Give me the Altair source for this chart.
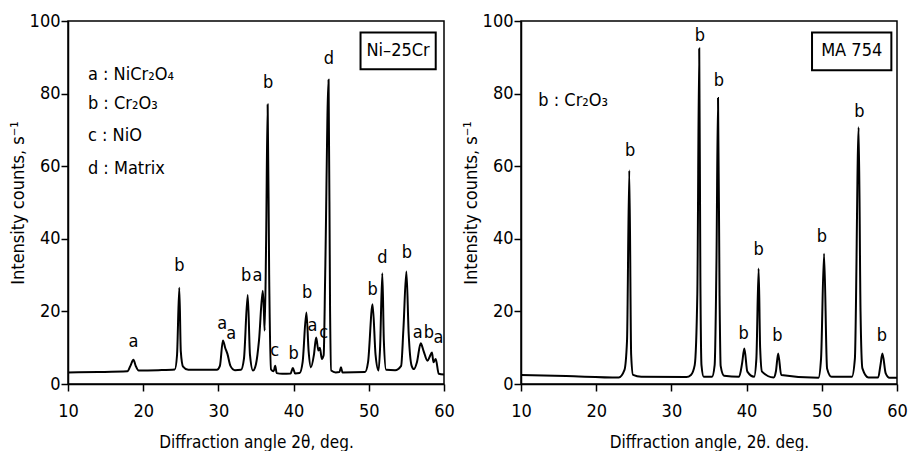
import altair as alt
import pandas as pd

# ---------------- Data: Ni-25Cr (left panel) ----------------
ni_x = [10, 14, 17.9, 18.3, 18.7, 19.0, 19.4, 22, 24.2, 24.5, 24.8, 25.0, 25.3, 26, 29.8, 30.2, 30.6, 30.9,
        31.2, 31.6, 32.2, 33.0, 33.4, 33.9, 34.2, 34.6, 35.0, 35.4, 35.9, 36.05, 36.15, 36.35, 36.55, 36.75,
        37.0, 37.35, 37.55, 37.75, 38.5, 39.6, 39.9, 40.2, 40.8, 41.2, 41.7, 42.0, 42.3, 42.7, 43.0, 43.3,
        43.5, 43.75, 44.0, 44.2, 44.65, 44.85, 45.0, 45.6, 46.1, 46.3, 46.5, 49.5, 49.9, 50.5, 50.9, 51.3,
        51.5, 51.8, 52.0, 52.3, 53.5, 54.3, 54.6, 55.0, 55.3, 55.7, 56.0, 56.4, 56.9, 57.3, 57.8, 58.1,
        58.4, 58.6, 58.9, 59.3, 60]
ni_y = [3.2, 3.3, 3.5, 5.0, 6.7, 5.0, 3.7, 3.8, 4.0, 8.0, 26.5, 9.0, 4.8, 3.9, 3.9, 5.0, 12.0, 10.0,
        8.3, 5.0, 3.8, 3.9, 7.0, 24.5, 8.0, 3.7, 5.5, 12.0, 25.7, 20.0, 14.7, 40.0, 77.0, 30.0,
        4.0, 3.5, 5.0, 3.0, 2.8, 2.9, 4.4, 2.9, 3.0, 6.0, 19.7, 9.0, 4.6, 8.0, 12.8, 9.2,
        10.0, 6.9, 8.0, 30.0, 83.8, 20.0, 3.7, 3.2, 3.3, 4.6, 3.2, 3.3, 6.0, 22.0, 8.0, 3.7,
        10.0, 30.5, 12.0, 3.9, 3.8, 5.0, 15.0, 31.0, 14.0, 5.0, 4.1, 6.0, 11.2, 9.0, 6.4, 7.5,
        8.7, 6.0, 6.9, 2.8, 2.6]

ni_lab_text = ["a", "b", "a", "a", "b", "a", "b", "c", "b", "b", "a", "c", "d", "b", "d", "b", "a", "b", "a"]
ni_lab_x = [18.7, 24.8, 30.5, 31.7, 33.7, 35.2, 36.6, 37.5, 40.0, 41.8, 42.5, 44.0, 44.7, 50.5, 51.8, 55.05, 56.5, 58.0, 59.25]
ni_lab_y = [11.7, 32.4, 16.6, 13.9, 29.7, 29.7, 83.0, 9.2, 8.2, 25.2, 16.0, 14.1, 89.4, 25.8, 34.8, 36.2, 14.1, 14.1, 12.6]

ni_key_text = ["a : NiCr\u2082O\u2084", "b : Cr\u2082O\u2083", "c : NiO", "d : Matrix"]
ni_key_y = [85.1, 77.1, 68.3, 59.2]

# ---------------- Data: MA 754 (right panel) ----------------
ma_x = [10, 16, 23.0, 23.75, 24.1, 24.4, 24.65, 24.9, 26, 32.0, 32.6, 33.1, 33.45, 33.7, 33.85, 34.0, 34.3,
        35.4, 35.75, 36.0, 36.2, 36.4, 36.55, 37.0, 39.0, 39.4, 39.7, 40.1, 41.0, 41.3, 41.6, 41.8, 42.05,
        43.6, 43.9, 44.2, 44.6, 49.55, 49.9, 50.3, 50.7, 51.3, 54.0, 54.4, 54.9, 55.15, 55.4, 56.2, 57.5,
        57.8, 58.06, 58.5, 59.0, 60]
ma_y = [2.5, 2.2, 1.8, 3.8, 12.0, 58.8, 8.0, 2.5, 2.0, 1.9, 2.5, 5.2, 25.0, 92.4, 30.0, 5.2, 2.0,
        2.0, 5.2, 35.0, 78.8, 25.0, 5.0, 2.3, 2.0, 5.7, 9.8, 3.4, 2.0, 7.0, 31.8, 10.0, 3.4,
        1.8, 3.5, 8.4, 2.5, 1.7, 7.0, 35.9, 4.3, 2.0, 2.0, 7.0, 70.7, 20.0, 4.3, 1.8, 1.8,
        5.2, 8.4, 2.9, 1.7, 1.7]

ma_lab_text = ["b"] * 9
ma_lab_x = [24.5, 33.8, 36.3, 39.6, 41.6, 44.1, 50.0, 55.0, 58.0]
ma_lab_y = [64.3, 95.9, 83.4, 13.9, 36.8, 13.3, 40.5, 74.8, 13.3]

ma_key_text = ["b : Cr\u2082O\u2083"]
ma_key_y = [78.0]

FONT = "DejaVu Sans Condensed, Liberation Sans Narrow, Roboto Condensed, Roboto"
W, H = 376, 363


def panel(xs, ys, lab_t, lab_x, lab_y, key_t, key_x, key_y, box_name, box, x_title, y_title):
    line_df = pd.DataFrame({"x": xs, "y": ys})
    lab_df = pd.DataFrame({"x": lab_x, "y": lab_y, "t": lab_t})
    key_df = pd.DataFrame({"x": [key_x] * len(key_t), "y": key_y, "t": key_t})
    box_df = pd.DataFrame({"x": [box[0]], "x2": [box[1]], "y": [box[2]], "y2": [box[3]],
                           "cx": [(box[0] + box[1]) / 2], "cy": [(box[2] + box[3]) / 2], "t": [box_name]})

    xs_ = alt.Scale(domain=[10, 60], nice=False)
    ys_ = alt.Scale(domain=[0, 100], nice=False)
    xax = alt.Axis(values=list(range(10, 61, 5)), title=x_title, labelFlush=False,
                   labelExpr="datum.value % 10 == 0 ? datum.label : ''",
                   tickSize={"condition": {"test": "datum.value % 10 == 0", "value": 7}, "value": 4})
    yax = alt.Axis(values=list(range(0, 101, 10)), title=y_title, labelFlush=False,
                   labelExpr="datum.value % 20 == 0 ? datum.label : ''",
                   tickSize={"condition": {"test": "datum.value % 20 == 0", "value": 7}, "value": 4})

    line = alt.Chart(line_df).mark_line(color="black", strokeWidth=2, interpolate="monotone").encode(
        x=alt.X("x:Q", scale=xs_, axis=xax),
        y=alt.Y("y:Q", scale=ys_, axis=yax),
    )
    labs = alt.Chart(lab_df).mark_text(font=FONT, fontSize=18, color="black", baseline="middle").encode(
        x="x:Q", y="y:Q", text="t:N")
    keys = alt.Chart(key_df).mark_text(font=FONT, fontSize=18, color="black", align="left",
                                       baseline="middle").encode(x="x:Q", y="y:Q", text="t:N")
    rect = alt.Chart(box_df).mark_rect(fill="white", stroke="black", strokeWidth=2).encode(
        x="x:Q", x2="x2:Q", y="y:Q", y2="y2:Q")
    btxt = alt.Chart(box_df).mark_text(font=FONT, fontSize=18, color="black", baseline="middle").encode(
        x="cx:Q", y="cy:Q", text="t:N")
    return alt.layer(line, labs, keys, rect, btxt).properties(width=W, height=H)


left = panel(ni_x, ni_y, ni_lab_text, ni_lab_x, ni_lab_y, ni_key_text, 12.65, ni_key_y,
             "Ni\u201325Cr", (48.9, 58.9, 86.7, 96.8),
             "Diffraction angle 2\u03b8, deg.", "Intensity counts, s\u207b\u00b9")
right = panel(ma_x, ma_y, ma_lab_text, ma_lab_x, ma_lab_y, ma_key_text, 12.3, ma_key_y,
              "MA 754", (48.7, 59.25, 86.4, 96.8),
              "Diffraction angle, 2\u03b8. deg.", "Intensity counts, s\u207b\u00b9")

chart = alt.hconcat(left, right, spacing=5).properties(
    padding={"left": 0, "top": 3, "right": 0, "bottom": 0},
    background="white",
).configure_view(
    stroke="black", strokeWidth=1.5
).configure_axis(
    grid=False, domainColor="black", domainWidth=1.5, tickColor="black", tickWidth=1.5,
    labelFont=FONT, labelFontSize=18, labelColor="black",
    titleFont=FONT, titleFontSize=18, titleColor="black", titleFontWeight="normal"
).configure_axisX(
    labelPadding=11, titlePadding=14, titleFontSize=17
).configure_axisY(
    labelPadding=1, titlePadding=2
)

chart.save("out.html", embed_options={"renderer": "svg", "actions": False})
